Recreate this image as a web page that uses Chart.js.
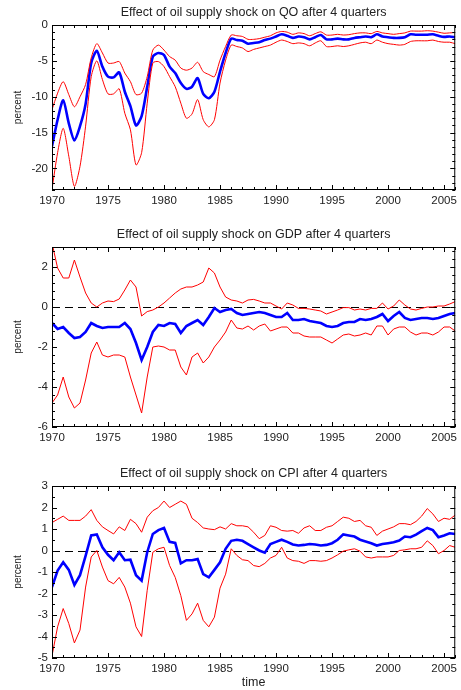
<!DOCTYPE html>
<html>
<head>
<meta charset="utf-8">
<title>Oil supply shock</title>
<script src="https://cdn.jsdelivr.net/npm/chart.js@4.4.0/dist/chart.umd.min.js"></script>
<style>
  body { margin: 0; background: #fff; }
  #wrap { position: relative; width: 461px; height: 690px; }
  canvas { position: absolute; left: 0; }
</style>
</head>
<body>
<div id="wrap">
  <canvas id="qo" width="461" height="210" style="top:0px"></canvas>
  <canvas id="gdp" width="461" height="225" style="top:222px"></canvas>
  <canvas id="cpi" width="461" height="229" style="top:461px"></canvas>
</div>
<script>
// semi-annual sample points, 1970 - 2006
const years = [
  1970, 1970.5, 1971, 1971.5, 1972, 1972.5, 1973, 1973.5, 1974, 1974.5,
  1975, 1975.5, 1976, 1976.5, 1977, 1977.5, 1978, 1978.5, 1979, 1979.5,
  1980, 1980.5, 1981, 1981.5, 1982, 1982.5, 1983, 1983.5, 1984, 1984.5,
  1985, 1985.5, 1986, 1986.5, 1987, 1987.5, 1988, 1988.5, 1989, 1989.5,
  1990, 1990.5, 1991, 1991.5, 1992, 1992.5, 1993, 1993.5, 1994, 1994.5,
  1995, 1995.5, 1996, 1996.5, 1997, 1997.5, 1998, 1998.5, 1999, 1999.5,
  2000, 2000.5, 2001, 2001.5, 2002, 2002.5, 2003, 2003.5, 2004, 2004.5,
  2005, 2005.5, 2006
];
const xTickLabels = [1970, 1975, 1980, 1985, 1990, 1995, 2000, 2005];

// QO response (percent): median and error bands
const qoMid = [
  -16.9, -13.2, -10.5, -13.7, -16.1, -14.1, -11.0, -5.3, -3.6, -5.8,
  -7.2, -7.3, -6.6, -9.3, -11.3, -14.0, -12.7, -8.6, -4.4, -3.9,
  -4.2, -5.8, -6.7, -8.1, -8.9, -8.6, -7.4, -9.6, -10.2, -9.3,
  -6.5, -3.9, -1.9, -2.1, -2.2, -2.6, -2.5, -2.4, -2.1, -1.9,
  -1.6, -1.3, -1.5, -1.8, -1.6, -1.7, -2.0, -1.7, -1.4, -2.0,
  -2.0, -1.9, -2.0, -2.0, -1.8, -1.7, -1.6, -1.7, -1.3, -1.6,
  -1.7, -1.8, -1.8, -1.7, -1.3, -1.35, -1.35, -1.35, -1.3, -1.5,
  -1.65, -1.6, -1.7
];
const qoUpper = [
  -11.8, -9.5, -7.9, -9.7, -11.4, -10.0, -8.3, -4.6, -2.6, -3.9,
  -5.3, -5.3, -5.1, -6.7, -7.9, -9.7, -9.5, -7.2, -3.5, -2.8,
  -3.5, -4.4, -4.9, -6.0, -6.3, -6.0, -5.2, -6.5, -6.9, -7.2,
  -4.9, -3.0, -1.4, -1.5, -1.6, -2.0, -2.0, -1.9, -1.7, -1.5,
  -1.1, -0.9, -1.0, -1.3, -1.1, -1.2, -1.5, -1.2, -0.95, -1.4,
  -1.4, -1.3, -1.4, -1.35, -1.2, -1.1, -1.1, -1.2, -0.9, -1.1,
  -1.2, -1.3, -1.2, -1.1, -0.85, -0.85, -0.85, -0.8, -0.85, -1.0,
  -1.15, -1.1, -1.05
];
const qoLower = [
  -22.9, -17.8, -14.4, -18.3, -22.5, -19.7, -14.1, -7.2, -5.0, -7.6,
  -9.6, -9.6, -8.9, -12.3, -14.6, -19.5, -17.8, -10.9, -5.3, -5.1,
  -5.8, -7.2, -8.6, -10.9, -13.0, -12.4, -10.4, -13.2, -14.2, -13.2,
  -8.1, -4.9, -2.8, -3.0, -3.2, -3.7, -3.4, -3.2, -3.0, -2.8,
  -2.4, -2.1, -2.3, -2.6, -2.5, -2.6, -2.9, -2.5, -2.2, -3.0,
  -3.0, -2.9, -3.0, -2.9, -2.7, -2.5, -2.4, -2.6, -2.1, -2.4,
  -2.6, -2.7, -2.8, -2.7, -2.3, -2.2, -2.2, -2.2, -2.1, -2.3,
  -2.4, -2.4, -2.6
];
const qoYTicks = [-20, -15, -10, -5, 0];

// GDP response (percent)
const gdpMid = [
  -0.8, -1.1, -1.0, -1.3, -1.55, -1.5, -1.25, -0.8, -0.95, -1.05,
  -1.0, -1.0, -1.0, -0.8, -1.1, -1.8, -2.65, -2.0, -1.25, -0.9,
  -0.95, -0.8, -0.85, -1.3, -0.95, -0.8, -0.65, -0.9, -0.5, -0.05,
  -0.25, -0.15, -0.1, -0.3, -0.4, -0.35, -0.3, -0.25, -0.3, -0.4,
  -0.5, -0.5, -0.3, -0.65, -0.65, -0.6, -0.7, -0.75, -0.8, -0.95,
  -1.0, -0.95, -0.8, -0.75, -0.75, -0.6, -0.65, -0.6, -0.5, -0.35,
  -0.7, -0.45, -0.25, -0.55, -0.65, -0.6, -0.55, -0.55, -0.6, -0.55,
  -0.45, -0.35, -0.3
];
const gdpUpper = [
  3.2, 1.95, 1.45, 1.45, 2.35, 1.5, 0.7, 0.2, 0.0, 0.2,
  0.3, 0.27, 0.4, 0.85, 1.35, 1.0, -0.45, -0.23, -0.15, 0.0,
  0.2, 0.45, 0.7, 0.9, 1.0, 1.0, 1.1, 1.25, 1.95, 1.7,
  1.0, 0.5, 0.35, 0.3, 0.2, 0.35, 0.38, 0.3, 0.2, 0.2,
  0.05, -0.1, 0.2, 0.1, -0.07, -0.07, -0.1, -0.15, -0.2, -0.35,
  -0.25, -0.15, -0.03, -0.03, -0.15, -0.1, -0.15, -0.07, -0.07, 0.2,
  -0.1, 0.05, 0.35, 0.1, -0.1, -0.15, -0.07, 0.0, 0.0, 0.05,
  0.05, 0.15, 0.27
];
const gdpLower = [
  -4.8, -4.4, -3.5, -4.5, -5.05, -4.8, -3.65, -2.3, -1.75, -2.4,
  -2.5, -2.4, -2.4, -2.5, -3.5, -4.4, -5.3, -3.5, -2.0, -1.95,
  -2.0, -2.15, -2.15, -3.0, -3.4, -2.5, -2.3, -2.8, -2.5, -2.0,
  -1.65, -1.25, -0.65, -1.05, -1.1, -0.95, -1.15, -0.95, -0.85, -1.2,
  -1.1, -1.0, -1.0, -1.3, -1.3, -1.45, -1.5, -1.5, -1.5, -1.65,
  -1.8, -1.6, -1.4, -1.35, -1.45, -1.4, -1.3, -1.4, -0.95, -0.95,
  -1.4, -1.1, -1.0, -1.0, -1.25, -1.4, -1.3, -1.3, -1.4, -1.25,
  -1.0, -1.0, -1.2
];
const gdpYTicks = [-6, -4, -2, 0, 2];

// CPI response (percent)
const cpiMid = [
  -1.7, -0.93, -0.55, -0.9, -1.6, -1.15, -0.25, 0.7, 0.75, 0.15,
  -0.2, -0.45, -0.08, -0.45, -0.43, -1.15, -1.4, -0.08, 0.77, 0.95,
  1.05, 0.4, 0.35, -0.6, -0.45, -0.45, -0.4, -1.1, -1.25, -0.9,
  -0.55, 0.08, 0.45, 0.5, 0.45, 0.3, 0.15, 0.0, -0.1, 0.3,
  0.4, 0.5, 0.4, 0.28, 0.23, 0.26, 0.3, 0.28, 0.23, 0.26,
  0.34, 0.5, 0.75, 0.7, 0.65, 0.5, 0.42, 0.34, 0.23, 0.3,
  0.34, 0.38, 0.46, 0.65, 0.62, 0.74, 0.9, 1.05, 0.95, 0.62,
  0.7, 0.8, 0.77
];
const cpiUpper = [
  1.3, 1.45, 1.6, 1.4, 1.4, 1.4, 1.6, 1.9, 1.4, 1.1,
  0.93, 0.77, 1.1, 0.93, 1.45, 1.25, 0.85, 1.55, 1.85, 2.0,
  2.3, 2.0, 2.15, 2.3, 2.15, 1.5, 1.3, 1.05, 1.0, 0.97,
  1.1, 1.0, 1.25, 1.15, 1.15, 1.1, 0.85, 0.55, 0.7, 1.15,
  1.08, 0.93, 0.9, 0.93, 0.8, 1.05, 1.15, 0.93, 0.93, 1.08,
  1.15, 1.35, 1.55, 1.5, 1.35, 1.4, 1.15, 1.08, 0.7, 0.9,
  1.0, 1.1, 1.25, 1.25, 1.2, 1.35, 1.6, 1.95, 1.7, 1.35,
  1.5, 1.45, 1.65
];
const cpiLower = [
  -4.9, -3.55, -2.7, -3.4, -4.3, -3.7, -1.7, -0.3, 0.0, -0.77,
  -1.4, -1.55, -1.25, -1.7, -2.45, -3.55, -4.0, -1.85, -0.08, 0.08,
  0.15, -0.7, -1.25, -2.1, -3.25, -2.95, -2.45, -3.25, -3.55, -3.1,
  -1.75, -1.1, 0.08, -0.23, -0.43, -0.47, -0.7, -0.75, -0.6, -0.35,
  -0.23, 0.15, -0.35, -0.47, -0.5, -0.6, -0.47, -0.47, -0.5, -0.47,
  -0.35, -0.2, -0.03, 0.03, 0.08, -0.03, -0.3, -0.35, -0.3, -0.3,
  -0.3, -0.23, 0.0, 0.03, 0.08, 0.08, 0.15, 0.45, 0.23, -0.15,
  0.0, 0.23, 0.15
];
const cpiYTicks = [-5, -4, -3, -2, -1, 0, 1, 2, 3];

const FONT = "'Liberation Sans', Arial, sans-serif";
const TEXT = '#222';

// box around the plot with small inward ticks on all four sides,
// plus an optional dashed line at zero
const framePlugin = {
  id: 'frame',
  beforeDatasetsDraw(chart, args, opts) {
    if (!opts.zeroLine) return;
    const ctx = chart.ctx, a = chart.chartArea;
    const py = Math.round(chart.scales.y.getPixelForValue(0)) + 0.5;
    ctx.save();
    ctx.strokeStyle = '#000';
    ctx.lineWidth = 1;
    ctx.setLineDash([8, 5]);
    ctx.beginPath();
    ctx.moveTo(a.left, py);
    ctx.lineTo(a.right, py);
    ctx.stroke();
    ctx.restore();
  },
  afterDraw(chart, args, opts) {
    const ctx = chart.ctx, a = chart.chartArea;
    const x = chart.scales.x, y = chart.scales.y;
    ctx.save();
    ctx.strokeStyle = '#000';
    ctx.lineWidth = 1;
    ctx.strokeRect(a.left + 0.5, a.top + 0.5, a.width - 1, a.height - 1);

    function marks(scale, minor, major, draw) {
      const k0 = Math.ceil(scale.min / minor - 1e-6);
      const k1 = Math.floor(scale.max / minor + 1e-6);
      for (let k = k0; k <= k1; k++) {
        const v = k * minor;
        const isMajor = Math.abs(v / major - Math.round(v / major)) < 1e-6;
        draw(Math.round(scale.getPixelForValue(v)) + 0.5, isMajor ? 5 : 3);
      }
    }
    ctx.beginPath();
    marks(x, 1, 5, function (px, len) {
      ctx.moveTo(px, a.bottom); ctx.lineTo(px, a.bottom - len);
      ctx.moveTo(px, a.top); ctx.lineTo(px, a.top + len);
    });
    marks(y, opts.yMinor, opts.yMajor, function (py, len) {
      ctx.moveTo(a.left, py); ctx.lineTo(a.left + len, py);
      ctx.moveTo(a.right, py); ctx.lineTo(a.right - len, py);
    });
    ctx.stroke();
    ctx.restore();
  }
};

function band(values) {
  return years.map(function (yr, i) { return { x: yr, y: values[i] }; });
}

function makeChart(id, cfg) {
  return new Chart(document.getElementById(id), {
    type: 'line',
    data: {
      datasets: [
        { data: band(cfg.upper), borderColor: '#ff0000', borderWidth: 1, tension: cfg.tension },
        { data: band(cfg.lower), borderColor: '#ff0000', borderWidth: 1, tension: cfg.tension },
        { data: band(cfg.mid), borderColor: '#0000ff', borderWidth: 2.6, tension: cfg.tension }
      ]
    },
    options: {
      responsive: false,
      animation: false,
      layout: { padding: { right: 1 }, autoPadding: false },
      elements: { point: { radius: 0 } },
      plugins: {
        legend: { display: false },
        tooltip: { enabled: false },
        title: {
          display: true,
          fullSize: false,
          text: cfg.title,
          color: TEXT,
          font: { family: FONT, size: 12.5, weight: 'normal' },
          padding: { top: 5, bottom: 5 }
        },
        frame: { zeroLine: cfg.zeroLine, yMinor: cfg.yMinor, yMajor: cfg.yMajor }
      },
      scales: {
        x: {
          type: 'linear',
          min: 1970,
          max: 2006,
          grid: { display: false, drawTicks: false },
          border: { display: false },
          afterBuildTicks: function (s) { s.ticks = xTickLabels.map(function (v) { return { value: v }; }); },
          afterFit: function (s) { s.height = cfg.xHeight; },
          ticks: {
            autoSkip: false, maxRotation: 0, padding: 4, color: TEXT,
            font: { family: FONT, size: 11.5 },
            callback: function (v) { return String(v); }
          },
          title: {
            display: !!cfg.xTitle,
            text: cfg.xTitle || '',
            color: TEXT,
            font: { family: FONT, size: 12.5 },
            padding: { top: 0, bottom: 0 }
          }
        },
        y: {
          min: cfg.yMin,
          max: cfg.yMax,
          grid: { display: false, drawTicks: false },
          border: { display: false },
          afterBuildTicks: function (s) { s.ticks = cfg.yTicks.map(function (v) { return { value: v }; }); },
          afterFit: function (s) { s.width = 52; },
          ticks: {
            padding: 4, color: TEXT,
            font: { family: FONT, size: 11.5 },
            callback: function (v) { return String(v); }
          },
          title: {
            display: true,
            text: 'percent',
            color: TEXT,
            font: { family: FONT, size: 10 },
            padding: { top: 12, bottom: 0 }
          }
        }
      }
    },
    plugins: [framePlugin]
  });
}

makeChart('qo', {
  title: 'Effect of oil supply shock on QO after 4 quarters',
  mid: qoMid, upper: qoUpper, lower: qoLower,
  yMin: -23, yMax: 0, yTicks: qoYTicks, yMinor: 1, yMajor: 5,
  zeroLine: false, tension: 0.25, xHeight: 20
});

makeChart('gdp', {
  title: 'Effect of oil supply shock on GDP after 4 quarters',
  mid: gdpMid, upper: gdpUpper, lower: gdpLower,
  yMin: -6, yMax: 3, yTicks: gdpYTicks, yMinor: 0.4, yMajor: 2,
  zeroLine: true, tension: 0, xHeight: 20
});

makeChart('cpi', {
  title: 'Effect of oil supply shock on CPI after 4 quarters',
  mid: cpiMid, upper: cpiUpper, lower: cpiLower,
  yMin: -5, yMax: 3, yTicks: cpiYTicks, yMinor: 0.5, yMajor: 1,
  zeroLine: true, tension: 0, xHeight: 32, xTitle: 'time'
});
</script>
</body>
</html>
